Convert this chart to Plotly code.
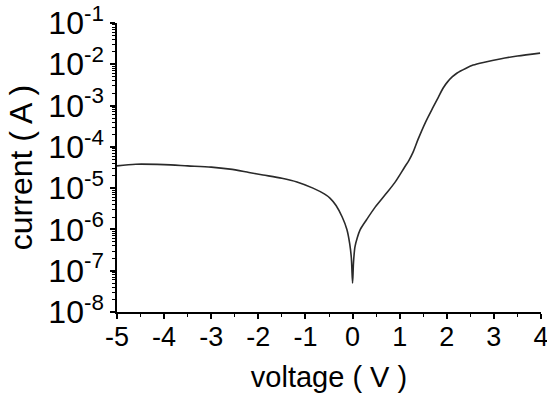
import plotly.graph_objects as go

voltage = [-5.0, -4.6, -4.0, -3.5, -3.0, -2.6, -2.2, -1.9, -1.5, -1.18, -0.84, -0.6,
           -0.48, -0.35, -0.22, -0.12, -0.06, -0.025, 0.0, 0.02, 0.05, 0.1, 0.16, 0.3,
           0.48, 0.7, 0.9, 1.1, 1.2, 1.28, 1.39, 1.55, 1.71, 1.82, 1.92, 2.02, 2.12, 2.22,
           2.4, 2.56, 2.8, 3.13, 3.5, 3.98]
log_current = [-4.46, -4.42, -4.43, -4.46, -4.49, -4.54, -4.62, -4.68, -4.76, -4.85, -5.0, -5.14,
               -5.24, -5.42, -5.70, -6.0, -6.35, -6.7, -7.3, -6.8, -6.43, -6.2, -6.01, -5.76,
               -5.46, -5.15, -4.86, -4.5, -4.32, -4.14, -3.82, -3.4, -3.04, -2.8, -2.58, -2.42, -2.3, -2.21,
               -2.1, -2.02, -1.95, -1.87, -1.8, -1.73]
current = [10 ** v for v in log_current]

x_ticks = [-5, -4, -3, -2, -1, 0, 1, 2, 3, 4]
x_minor = [-4.5, -3.5, -2.5, -1.5, -0.5, 0.5, 1.5, 2.5, 3.5]
y_exps = [-8, -7, -6, -5, -4, -3, -2, -1]
y_minor = [m * 10 ** e for e in range(-8, -1) for m in range(2, 10)]

font_family = "Liberation Sans, Arial, sans-serif"

fig = go.Figure()
fig.add_trace(go.Scatter(x=voltage, y=current, mode="lines",
                         line=dict(color="#2a2a2a", width=1.6, shape="spline", smoothing=0.8),
                         showlegend=False))

fig.update_layout(
    width=547, height=404,
    margin=dict(l=117, r=6, t=23, b=92),
    paper_bgcolor="white", plot_bgcolor="white",
    font=dict(family=font_family, color="black"),
    xaxis=dict(
        range=[-5, 4], tickvals=x_ticks, ticktext=[str(v) for v in x_ticks],
        automargin=False,
        showgrid=False, zeroline=False, showline=True, linecolor="black", linewidth=1.5,
        ticks="outside", ticklen=5, tickwidth=1.5, tickcolor="black",
        ticklabeloverflow="allow", ticklabelstandoff=-5,
        tickfont=dict(size=27, family=font_family),
        minor=dict(ticks="outside", ticklen=3, tickwidth=1.2, tickcolor="black",
                   tickvals=x_minor, showgrid=False),
        title=dict(text="voltage ( V )", font=dict(size=29, family=font_family), standoff=16),
    ),
    yaxis=dict(
        type="log", range=[-8, -1], automargin=False,
        tickvals=[10 ** e for e in y_exps],
        ticktext=["10<sup>%d</sup>" % e for e in y_exps],
        showgrid=False, zeroline=False, showline=True, linecolor="black", linewidth=1.5,
        ticks="outside", ticklen=5, tickwidth=1.5, tickcolor="black",
        tickfont=dict(size=32, family=font_family),
        minor=dict(ticks="outside", ticklen=3, tickwidth=1.0, tickcolor="black",
                   tickvals=y_minor, showgrid=False),
        title=dict(text="current ( A )", font=dict(size=32, family=font_family), standoff=6),
    ),
)

fig.write_html("out.html")
